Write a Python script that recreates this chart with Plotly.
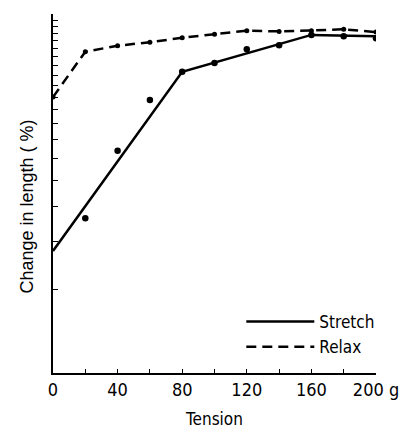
import plotly.graph_objects as go

# Data
tension = [0, 20, 40, 60, 80, 100, 120, 140, 160, 180, 200]
tick_labels = ["0", "", "40", "", "80", "", "120", "", "160", "", "200 g"]

stretch_pts_x = [20, 40, 60, 80, 100, 120, 140, 160, 180, 200]
stretch_pts = [3.64, 6.39, 9.75, 12.35, 13.3, 14.9, 15.4, 16.8, 16.6, 16.35]

stretch_fit_x = [0, 80, 160, 200]
stretch_fit = [2.77, 12.35, 16.8, 16.6]

relax = [10.0, 14.6, 15.35, 15.8, 16.4, 16.9, 17.4, 17.3, 17.4, 17.6, 17.2]

y_ticks = list(range(1, 21))
y_title = "Change in length ( %)"
x_title = "Tension"

NARROW = "DejaVu Sans Condensed, Liberation Sans Narrow, sans-serif"
REG = "Liberation Sans, Arial, sans-serif"

fig = go.Figure()

fig.add_trace(go.Scatter(
    x=stretch_fit_x, y=stretch_fit, mode="lines", name="Stretch",
    line=dict(color="black", width=2.5),
))
fig.add_trace(go.Scatter(
    x=stretch_pts_x, y=stretch_pts, mode="markers", showlegend=False,
    marker=dict(color="black", size=6.5),
))
fig.add_trace(go.Scatter(
    x=tension, y=relax, mode="lines", name="Relax",
    line=dict(color="black", width=2.5, dash="10px,6px"),
))
fig.add_trace(go.Scatter(
    x=tension, y=relax, mode="markers", showlegend=False,
    marker=dict(color="black", size=5),
))

fig.add_annotation(
    text=y_title, xref="paper", yref="paper", x=-0.079, y=0.465,
    xanchor="center", yanchor="middle", textangle=-90, showarrow=False,
    font=dict(family=REG, size=18, color="black"),
)

fig.update_layout(
    width=401, height=429,
    margin=dict(l=52.5, r=25, t=14, b=56),
    paper_bgcolor="white", plot_bgcolor="white",
    font=dict(family=NARROW, size=18, color="black"),
    showlegend=True,
    legend=dict(
        x=0.583, y=0.192, xanchor="left", yanchor="top",
        bgcolor="rgba(0,0,0,0)", font=dict(family=NARROW, size=17, color="black"),
        itemwidth=68, tracegroupgap=0,
    ),
    xaxis=dict(
        range=[0, 200], tickvals=tension, ticktext=tick_labels,
        showline=True, linecolor="black", linewidth=1.5,
        ticks="inside", ticklen=4, tickcolor="black", tickwidth=1.2,
        showgrid=False, zeroline=False, automargin=False,
        title=dict(text=x_title, font=dict(family=NARROW, size=17), standoff=21),
        tickfont=dict(family=NARROW, size=18),
    ),
    yaxis=dict(
        type="log", range=[0, 1.30103], tickvals=y_ticks,
        ticktext=[""] * len(y_ticks),
        showline=True, linecolor="black", linewidth=1.5,
        ticks="inside", ticklen=5, tickcolor="black", tickwidth=1.2,
        showgrid=False, zeroline=False, automargin=False,
    ),
)

fig.write_html(
    "out.html",
    config={"displayModeBar": False},
    post_script="document.body.style.margin='0';",
)
